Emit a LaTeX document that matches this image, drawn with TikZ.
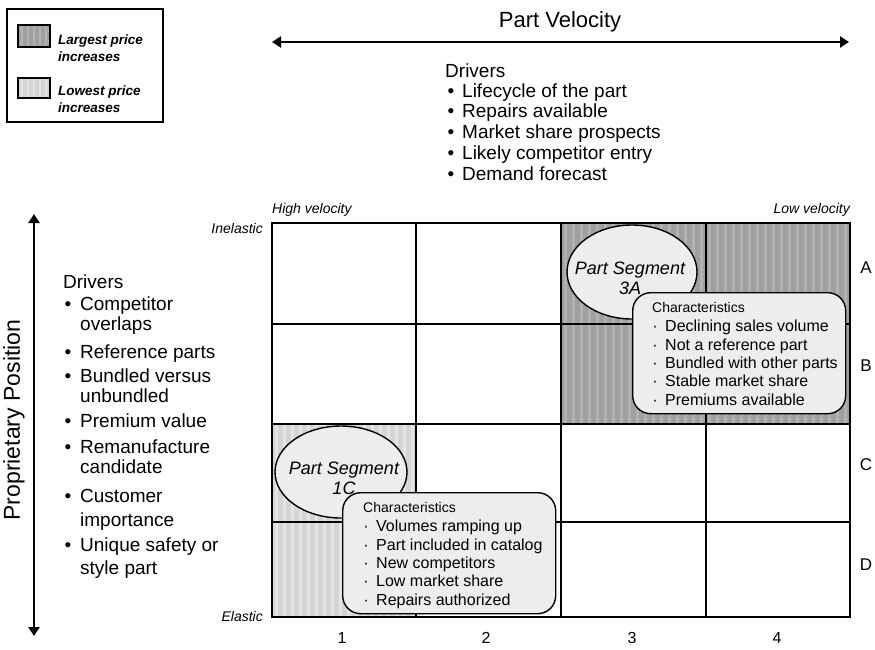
\documentclass[tikz,border=0pt]{standalone}
\usepackage{fontspec}
\setmainfont{Liberation Sans}
\usetikzlibrary{arrows.meta,shapes.geometric}

\definecolor{darkcell}{HTML}{A0A0A0}
\definecolor{darkstripe}{HTML}{B2B2B2}
\definecolor{lightcell}{HTML}{D4D4D4}
\definecolor{lightstripe}{HTML}{E4E4E4}
\definecolor{bubble}{HTML}{EDEDED}

\newcommand{\fsz}[2]{\fontsize{#1}{#2}\selectfont}

\tikzset{
  gridline/.style={line width=2pt, black},
  axisarrow/.style={line width=2.4pt, {Triangle[length=9pt,width=11pt]}-{Triangle[length=9pt,width=11pt]}},
  axistitle/.style={font=\fsz{22}{24}, inner sep=0pt},
  drvtext/.style={font=\fsz{19}{21}, anchor=base west, inner sep=0pt},
  drvdot/.style={font=\fsz{19}{21}, anchor=base, inner sep=0pt},
  endlabel/.style={font=\fsz{14}{16}\itshape, inner sep=0pt},
  rowlabel/.style={font=\fsz{17}{19}, inner sep=0pt},
  collabel/.style={font=\fsz{16}{18}, anchor=base, inner sep=0pt},
  segellipse/.style={ellipse, draw=black, line width=1.4pt, fill=bubble, inner sep=0pt},
  segtext/.style={font=\fsz{18}{20}\itshape, align=center, inner sep=0pt},
  charbox/.style={draw=black, line width=1.4pt, fill=bubble, rounded corners=18pt, inner sep=0pt, anchor=north west},
  chartitle/.style={font=\fsz{14}{16}, anchor=base west, inner sep=0pt},
  charitem/.style={font=\fsz{16}{18}, anchor=base west, inner sep=0pt},
  chardot/.style={font=\fsz{16}{18}, anchor=base, inner sep=0pt},
  legendbox/.style={draw=black, line width=1.6pt},
  swatch/.style={draw=black, line width=1.6pt},
  legendtext/.style={font=\fsz{13.5}{17}\bfseries\itshape, align=left, anchor=base west, inner sep=0pt},
}

\begin{document}
\begin{tikzpicture}[x=1pt,y=-1pt]
\useasboundingbox (0,0) rectangle (875,649);

% ---------- legend ----------
\draw[legendbox] (7,9) rectangle (163,122);
\fill[darkcell] (18,25) rectangle (50,47);
\foreach \x in {21,27,...,48} \fill[darkstripe] (\x,25) rectangle ++(2,22);
\draw[swatch] (18,25) rectangle (50,47);
\fill[lightcell] (18,78) rectangle (50,98);
\foreach \x in {21,27,...,48} \fill[lightstripe] (\x,78) rectangle ++(2,20);
\draw[swatch] (18,78) rectangle (50,98);
% the base anchor of a two-line node sits on its last line
\node[legendtext] (leg1) at (58,61) {Largest price\\increases};
\node[legendtext] (leg2) at (58,112) {Lowest price\\increases};

% ---------- part velocity axis ----------
\node[axistitle, anchor=base] (pvtitle) at (560,27) {Part Velocity};
\coordinate (pvL) at (272,42);
\coordinate (pvR) at (849,42);
\draw[axisarrow] (pvL) -- (pvR);

% velocity drivers
\node[drvtext] (vdrv) at (445,77) {Drivers};
\foreach \t [count=\i] in {Lifecycle of the part, Repairs available, Market share prospects, Likely competitor entry, Demand forecast} {
  \node[drvdot] (vdot\i) at (451,{97+20.75*(\i-1)}) {\textbullet};
  \node[drvtext] (vdrv\i) at (462,{97+20.75*(\i-1)}) {\t};
}

% ---------- proprietary position axis ----------
\coordinate (ppT) at (34,214);
\coordinate (ppB) at (34,636);
\draw[axisarrow] (ppT) -- (ppB);
\node[axistitle, font=\fsz{23}{25}, rotate=90] (pptitle) at (14,420) {Proprietary Position};

% position drivers
\node[drvtext] (pdrv) at (63,288) {Drivers};
\foreach \y/\b/\t [count=\i] in {310/1/Competitor, 330/0/overlaps, 358/1/Reference parts,
    382/1/Bundled versus, 402/0/unbundled, 427/1/Premium value, 453/1/Remanufacture,
    473/0/candidate, 502/1/Customer, 526/0/importance, 551/1/Unique safety or, 574/0/style part} {
  \ifnum\b=1 \node[drvdot] (pdot\i) at (68,\y) {\textbullet}; \fi
  \node[drvtext] (pdrv\i) at (80,\y) {\t};
}

% ---------- shaded cells ----------
\fill[darkcell] (561,223) rectangle (850,424);
\begin{scope}
  \clip (561,223) rectangle (850,424);
  \foreach \x in {564,572,...,850} \fill[darkstripe] (\x,223) rectangle ++(3,201);
\end{scope}
\fill[lightcell] (272,424) rectangle (416,617);
\begin{scope}
  \clip (272,424) rectangle (416,617);
  \foreach \x in {275,283,...,416} \fill[lightstripe] (\x,424) rectangle ++(3,193);
\end{scope}

% ---------- grid ----------
\draw[gridline] (272,223) rectangle (850,617);
\foreach \x in {416,561,706} \draw[gridline] (\x,223) -- (\x,617);
\foreach \y in {324,424,522} \draw[gridline] (272,\y) -- (850,\y);

% grid end labels
\node[endlabel, anchor=base west] (hv) at (272,213) {High velocity};
\node[endlabel, anchor=base east] (lv) at (850,213) {Low velocity};
\node[endlabel, anchor=base east] (inel) at (263,233) {Inelastic};
\node[endlabel, anchor=base east] (el) at (263,621) {Elastic};

% row and column labels
\foreach \r/\y in {A/268, B/366, C/465, D/565}
  \node[rowlabel] (row\r) at (866,\y) {\r};
\foreach \c/\x in {1/342, 2/486, 3/632, 4/777}
  \node[collabel] (col\c) at (\x,643) {\c};

% ---------- part segment 3A ----------
\node[segellipse, minimum width=130pt, minimum height=94pt] (seg3a) at (632,272) {};
\node[charbox, minimum width=213pt, minimum height=121pt] (char3a) at (632,292) {};
\node[segtext] (seg3at) at (630,278) {Part Segment\\3A};
\node[chartitle] (char3ah) at (652,312) {Characteristics};
\foreach \t [count=\i] in {Declining sales volume, Not a reference part, Bundled with other parts, Stable market share, Premiums available} {
  \node[chardot] (c3dot\i) at (655,{313.5+18.3*\i}) {\textperiodcentered};
  \node[charitem] (c3item\i) at (665,{313.5+18.3*\i}) {\t};
}

% ---------- part segment 1C ----------
\node[segellipse, minimum width=132pt, minimum height=92pt] (seg1c) at (341,472) {};
\node[charbox, minimum width=213pt, minimum height=121pt] (char1c) at (342,492) {};
\node[segtext] (seg1ct) at (344,478) {Part Segment\\1C};
\node[chartitle] (char1ch) at (363,512) {Characteristics};
\foreach \t [count=\i] in {Volumes ramping up, Part included in catalog, New competitors, Low market share, Repairs authorized} {
  \node[chardot] (c1dot\i) at (366,{513.5+18.3*\i}) {\textperiodcentered};
  \node[charitem] (c1item\i) at (376,{513.5+18.3*\i}) {\t};
}

\end{tikzpicture}
\end{document}
